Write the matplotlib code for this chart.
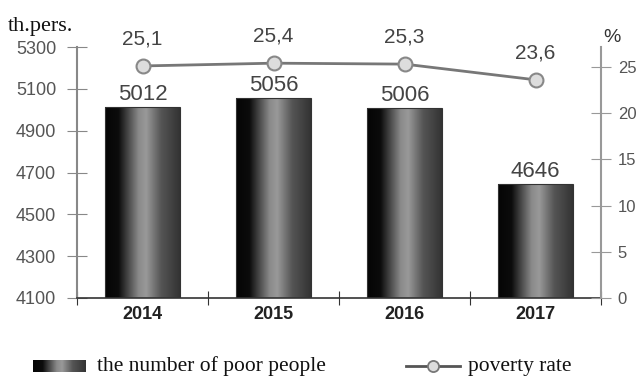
import numpy as np
import matplotlib.pyplot as plt
from matplotlib.lines import Line2D
from matplotlib.colors import LinearSegmentedColormap

years = ["2014", "2015", "2016", "2017"]
poor_people = [5012, 5056, 5006, 4646]
poverty_rate = [25.1, 25.4, 25.3, 23.6]
rate_labels = ["25,1", "25,4", "25,3", "23,6"]
left_ticks = [4100, 4300, 4500, 4700, 4900, 5100, 5300]
right_ticks = [0, 5, 10, 15, 20, 25]

plt.rcParams['font.family'] = ['Liberation Sans', 'DejaVu Sans']

# gradient of the bars: black at the left, light gray in the middle, dark at right
bar_cmap = LinearSegmentedColormap.from_list(
    "bar", [(0.0, "#050505"), (0.18, "#0c0c0c"), (0.45, "#8a8a8a"),
            (0.55, "#999999"), (0.75, "#555555"), (1.0, "#333333")])
grad = np.linspace(0, 1, 256).reshape(1, -1)

fig = plt.figure(figsize=(6.37, 3.82), dpi=100)
ax = fig.add_axes([77 / 637, 84 / 382, 524 / 637, 251 / 382])

x = np.arange(len(years))
width = 0.57
bars = ax.bar(x, poor_people, width, color="none", edgecolor="#333333",
              linewidth=0.8, zorder=3)
for b in bars:
    x0, y0 = b.get_x(), 4100
    im = ax.imshow(grad, cmap=bar_cmap, aspect="auto", zorder=2,
                   extent=[x0, x0 + b.get_width(), y0, b.get_height()])
    im.set_clip_path(b)
    ax.text(b.get_x() + b.get_width() / 2, b.get_height() + 10, str(int(b.get_height())),
            ha="center", va="bottom", fontsize=16, color="#444444")

ax.set_xlim(-0.5, len(years) - 0.5)
ax.set_ylim(4100, 5300)
ax.set_yticks(left_ticks)
ax.set_xticks(np.arange(-0.5, len(years)), minor=False)
ax.set_xticklabels([])
ax.set_xticks(x, minor=True)
ax.set_xticklabels(years, minor=True, fontsize=13, fontweight="bold", color="#222222")
ax.tick_params(axis="x", which="minor", length=0, pad=6)
ax.tick_params(axis="x", which="major", direction="inout", length=10, color="#333333")
ax.tick_params(axis="y", direction="inout", length=14, color="#888888",
               labelsize=13, labelcolor="#555555", pad=8)
for s in ["top", "right"]:
    ax.spines[s].set_visible(False)
ax.spines["left"].set_color("#888888")
ax.spines["left"].set_linewidth(1.5)
ax.spines["bottom"].set_color("#333333")
ax.spines["bottom"].set_linewidth(1.2)

ax2 = ax.twinx()
ax2.set_ylim(0, 27.15)
ax2.set_yticks(right_ticks)
ax2.plot(x, poverty_rate, color="#777777", linewidth=2, marker="o", markersize=10,
         markerfacecolor="#dddddd", markeredgecolor="#888888", markeredgewidth=1.5,
         zorder=4)
for xi, v, lab in zip(x, poverty_rate, rate_labels):
    ax2.text(xi, v + 1.9, lab, ha="center", va="bottom", fontsize=15, color="#444444")
for s in ["top", "left", "bottom"]:
    ax2.spines[s].set_visible(False)
ax2.spines["right"].set_color("#999999")
ax2.spines["right"].set_linewidth(1.5)
ax2.tick_params(axis="y", direction="inout", length=14, color="#999999",
                labelsize=12, labelcolor="#555555", pad=5)

serif = ['Liberation Serif', 'DejaVu Serif']
fig.text(8 / 637, 1 - 26 / 382, "th.pers.", family=serif, fontsize=16,
         va="center", ha="left", color="#111111")
fig.text(603 / 637, 1 - 38 / 382, "%", fontsize=14, va="center", ha="left",
         color="#333333")

# legend drawn by hand
lax = fig.add_axes([33 / 637, (382 - 372) / 382, 53 / 637, 12 / 382])
lax.imshow(grad, cmap=bar_cmap, aspect="auto")
lax.axis("off")
fig.text(97 / 637, 1 - 366 / 382, "the number of poor people", family=serif,
         fontsize=15.5, va="center", ha="left", color="#111111")
fig.add_artist(Line2D([406 / 637, 460 / 637], [1 - 366 / 382] * 2, color="#555555",
                      linewidth=2, transform=fig.transFigure))
fig.add_artist(Line2D([433 / 637], [1 - 366 / 382], marker="o", markersize=8,
                      markerfacecolor="#dddddd", markeredgecolor="#777777",
                      markeredgewidth=1.3, transform=fig.transFigure))
fig.text(468 / 637, 1 - 366 / 382, "poverty rate", family=serif,
         fontsize=15.5, va="center", ha="left", color="#111111")

fig.savefig("out.png", dpi=100)
